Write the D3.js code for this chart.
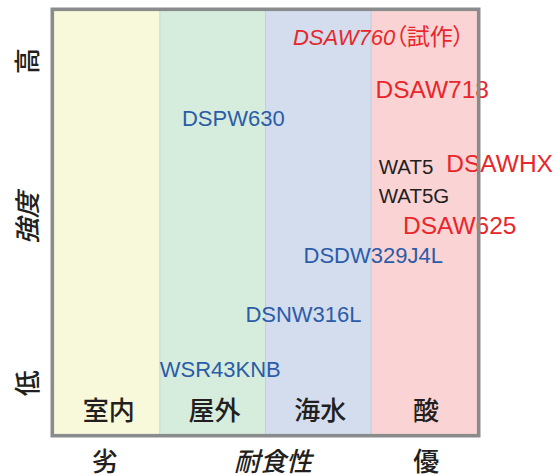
<!DOCTYPE html>
<html>
<head>
<meta charset="utf-8">
<script src="https://cdn.jsdelivr.net/npm/d3@7"></script>
<style>
  body { margin: 0; background: #fff; }
  svg { display: block; }
</style>
</head>
<body>
<svg id="chart"></svg>
<script>
var width = 558;
var height = 475;

// environments, from weak to strong corrosion resistance
var environments = ["室内", "屋外", "海水", "酸"];
var envColors = ["#f8f8da", "#d6ecdd", "#d3ddee", "#fad4d4"];

// grades: corrosion-resistance index (0-4) and strength index (0-100)
var gradeNames = ["DSAW760", "DSAW718", "DSPW630", "WAT5", "WAT5G", "DSAWHX", "DSAW625", "DSDW329J4L", "DSNW316L", "WSR43KNB"];
var gradeSuffix = ["（試作）", "", "", "", "", "", "", "", "", ""];
var gradeCorrosion = [2.26, 3.04, 1.21, 3.07, 3.07, 3.71, 3.30, 2.36, 1.81, 1.00];
var gradeStrength = [92.0, 79.4, 72.8, 61.4, 54.7, 61.9, 47.3, 40.4, 26.4, 13.5];
var gradeGroup = ["trial", "acid", "stainless", "wat", "wat", "acid", "acid", "stainless", "stainless", "stainless"];

// axis wording
var strengthLabels = ["低", "強度", "高"];
var strengthAt = [12, 51, 88.2];
var corrosionLabels = ["劣", "耐食性", "優"];
var corrosionAt = [0.48, 2.07, 3.52];

var groupStyle = {
  trial:     { color: "#e8262b", size: 22, italic: true },
  acid:      { color: "#e8262b", size: 24.5, italic: false },
  stainless: { color: "#2b5ca8", size: 22, italic: false },
  wat:       { color: "#231f20", size: 20.5, italic: false }
};

var svg = d3.select("#chart").attr("width", width).attr("height", height);

// plot area (avoid "top", it is window.top)
var pl = 54, pr = 477, pt = 11, pb = 434;

var x = d3.scaleLinear().domain([0, 4]).range([pl, pr]);
var y = d3.scaleLinear().domain([0, 100]).range([pb, pt]);
var band = d3.scaleBand().domain(environments).range([pl, pr]);

var latin = "'Liberation Sans', Arial, Helvetica, sans-serif";
var cjk = "'Noto Sans CJK JP', 'Noto Sans', sans-serif";

// environment bands
svg.append("g")
  .selectAll("rect")
  .data(environments)
  .enter()
  .append("rect")
  .attr("x", d => band(d))
  .attr("y", pt)
  .attr("width", band.bandwidth())
  .attr("height", pb - pt)
  .attr("fill", (d, i) => envColors[i]);

// faint dividers
svg.append("g")
  .selectAll("line")
  .data(environments.slice(1))
  .enter()
  .append("line")
  .attr("x1", d => band(d)).attr("x2", d => band(d))
  .attr("y1", pt).attr("y2", pb)
  .attr("stroke", "rgba(90,90,110,0.18)")
  .attr("stroke-width", 1);

// environment names at bottom of each band
svg.append("g")
  .selectAll("text")
  .data(environments)
  .enter()
  .append("text")
  .attr("x", d => band(d) + band.bandwidth() / 2 + 2)
  .attr("y", 408)
  .attr("text-anchor", "middle")
  .attr("dominant-baseline", "central")
  .attr("font-family", cjk)
  .attr("font-weight", 500)
  .attr("font-size", 26)
  .attr("fill", "#231f20")
  .text(d => d);

// grade labels
var labels = svg.append("g")
  .selectAll("text")
  .data(gradeNames)
  .enter()
  .append("text")
  .attr("x", (d, i) => x(gradeCorrosion[i]))
  .attr("y", (d, i) => y(gradeStrength[i]))
  .attr("font-family", latin)
  .attr("font-size", (d, i) => groupStyle[gradeGroup[i]].size)
  .attr("fill", (d, i) => groupStyle[gradeGroup[i]].color);

labels.append("tspan")
  .attr("font-style", (d, i) => groupStyle[gradeGroup[i]].italic ? "italic" : "normal")
  .text(d => d);

labels.filter((d, i) => gradeSuffix[i] !== "")
  .append("tspan")
  .attr("font-family", cjk)
  .attr("font-size", 23)
  .style("font-feature-settings", "'palt'")
  .text((d) => gradeSuffix[gradeNames.indexOf(d)]);

// frame
svg.append("rect")
  .attr("x", pl - 1.7)
  .attr("y", pt - 1.7)
  .attr("width", pr - pl + 3.4)
  .attr("height", pb - pt + 3.4)
  .attr("fill", "none")
  .attr("stroke", "#8a8b8d")
  .attr("stroke-width", 3.6);

// strength axis wording (rotated)
svg.append("g")
  .selectAll("text")
  .data(strengthLabels)
  .enter()
  .append("text")
  .attr("transform", (d, i) => "translate(25," + y(strengthAt[i]) + ") rotate(-90)")
  .attr("text-anchor", "middle")
  .attr("dominant-baseline", "central")
  .attr("font-family", cjk)
  .attr("font-weight", 500)
  .attr("font-size", 26)
  .attr("font-style", d => d === "強度" ? "italic" : "normal")
  .attr("fill", "#231f20")
  .text(d => d);

// corrosion axis wording
svg.append("g")
  .selectAll("text")
  .data(corrosionLabels)
  .enter()
  .append("text")
  .attr("x", (d, i) => x(corrosionAt[i]))
  .attr("y", 459)
  .attr("text-anchor", "middle")
  .attr("dominant-baseline", "central")
  .attr("font-family", cjk)
  .attr("font-weight", 500)
  .attr("font-size", 26)
  .attr("font-style", d => d === "耐食性" ? "italic" : "normal")
  .attr("fill", "#231f20")
  .text(d => d);
</script>
</body>
</html>
